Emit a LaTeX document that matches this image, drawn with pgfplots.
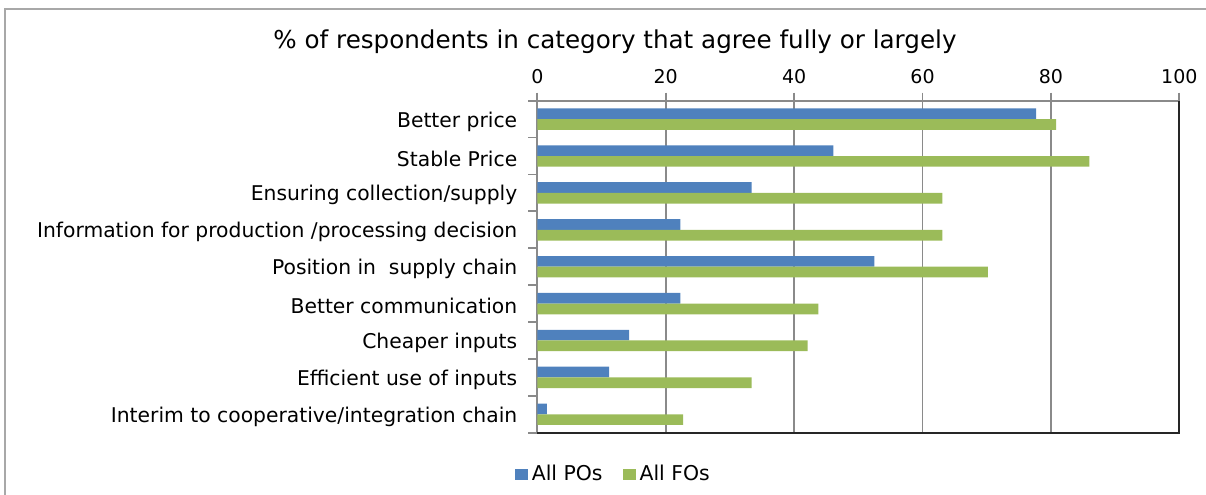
\documentclass[border=0pt]{standalone}
\usepackage{fontspec}
\setmainfont{DejaVu Sans}
\usepackage{pgfplots}
\pgfplotsset{compat=1.18}
\definecolor{poblue}{HTML}{4F81BD}
\definecolor{fogreen}{HTML}{9BBB59}
\definecolor{gridgray}{HTML}{8A8A8A}
\definecolor{framegray}{HTML}{A8A8A8}
\begin{document}
\begin{tikzpicture}
\useasboundingbox (0,0) rectangle (603bp,-247.5bp);
\draw[framegray, line width=0.6bp] (2.5bp,-250bp) -- (2.5bp,-4.5bp) -- (606bp,-4.5bp);
\node[font=\fontsize{12.3bp}{14bp}\selectfont, anchor=center] at (307.5bp,-21bp) {\% of respondents in category that agree fully or largely};
\begin{axis}[
  at={(268.65bp,-50.35bp)}, anchor=north west,
  scale only axis,
  width=321bp, height=166bp,
  xmin=0, xmax=100,
  ymin=-0.5, ymax=8.5,
  y dir=reverse,
  xbar,
  bar width=5.35bp,
  axis x line*=top,
  axis y line*=left,
  axis line style={gridgray, line width=1bp},
  xtick={0,20,40,60,80,100},
  xticklabel pos=upper,
  xmajorgrids,
  major grid style={gridgray, line width=0.9bp},
  tick align=outside,
  major tick length=4bp,
  x tick style={gridgray, line width=0.9bp},
  ytick={0,1,2,3,4,5,6,7,8},
  yticklabels={Better price, Stable Price, Ensuring collection/supply, Information for production /processing decision, Position in\ \ supply chain, Better communication, Cheaper inputs, Efficient use of inputs, Interim to cooperative/integration chain},
  y tick style={draw=none},
  minor ytick={-0.5,0.5,1.5,2.5,3.5,4.5,5.5,6.5,7.5,8.5},
  minor tick length=4.5bp,
  minor y tick style={gridgray, line width=0.9bp, draw=gridgray},
  yticklabel style={font=\fontsize{10.15bp}{12bp}\selectfont, xshift=-2.5bp, yshift=-1.2bp},
  xticklabel style={font=\fontsize{9.5bp}{11bp}\selectfont, yshift=1bp},
  /pgf/number format/assume math mode=true,
  legend style={at={(0.12,-0.125)}, anchor=center, draw=none, legend columns=2,
    font=\fontsize{10.2bp}{12bp}\selectfont,
    /tikz/every even column/.append style={column sep=8bp}},
  legend image code/.code={\fill[#1] (0bp,-2.75bp) rectangle (6.5bp,2.75bp);},
  clip=false,
]
\addplot[draw=none, fill=poblue, bar shift=2.675bp] coordinates {
(77.7,0) (46.1,1) (33.4,2) (22.3,3) (52.5,4) (22.3,5) (14.3,6) (11.2,7) (1.5,8)};
\addplot[draw=none, fill=fogreen, bar shift=-2.675bp] coordinates {
(80.8,0) (86.0,1) (63.1,2) (63.1,3) (70.2,4) (43.8,5) (42.1,6) (33.4,7) (22.7,8)};
\legend{All POs, All FOs}
\draw[black!85, line width=1bp] (axis cs:0,8.5) -- (axis cs:100,8.5) -- (axis cs:100,-0.5);
\end{axis}
\end{tikzpicture}
\end{document}
